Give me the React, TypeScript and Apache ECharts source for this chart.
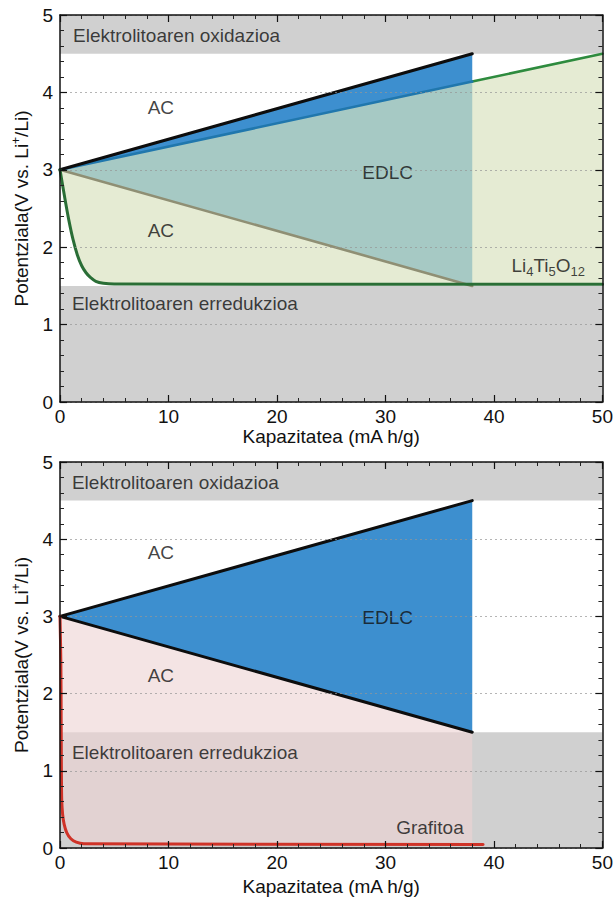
import React, { useEffect, useRef } from "react";
import * as echarts from "echarts";

// ---- axes ----
const X_MIN = 0;
const X_MAX = 50;
const X_INTERVAL = 10;
const Y_MIN = 0;
const Y_MAX = 5;
const Y_INTERVAL = 1;
const X_NAME = "Kapazitatea (mA h/g)";
const Y_NAME = "{a|Potentziala(V vs. Li}{b|+}{a|/Li)}";

// ---- electrolyte stability bands (V) ----
const oxidationBand = [4.5, 5];
const reductionBand = [0, 1.5];

// ---- common AC / EDLC geometry ----
const startPoint = [0, 3];
const edlcEnd = 38;
const acUpperEnd = [38, 4.5];
const acLowerEnd = [38, 1.5];

// ---- top chart: AC // Li4Ti5O12 ----
const acHybridEnd = [50, 4.5];
const ltoCurve = [
  [0, 3], [0.4, 2.67], [0.8, 2.36], [1.2, 2.1], [1.6, 1.9], [2, 1.76],
  [2.4, 1.67], [2.8, 1.61], [3.3, 1.56], [4, 1.535], [5, 1.525], [50, 1.52],
];

// ---- bottom chart: AC // graphite ----
const graphiteCurve = [
  [0, 3], [0.08, 2.4], [0.11, 1.6], [0.13, 1.0], [0.16, 0.62], [0.24, 0.44],
  [0.38, 0.31], [0.62, 0.2], [1, 0.12], [1.5, 0.075], [2.2, 0.055], [39, 0.045],
];

// ---- annotation texts [x, y, text, align] ----
const topLabels: [number, number, string, string][] = [
  [1.2, 4.73, "Elektrolitoaren oxidazioa", "left"],
  [9.3, 3.81, "AC", "center"],
  [30.2, 2.97, "EDLC", "center"],
  [9.3, 2.22, "AC", "center"],
  [1.1, 1.27, "Elektrolitoaren erredukzioa", "left"],
  [45.0, 1.76, "{m|Li}{s|4}{m|Ti}{s|5}{m|O}{s|12}", "center"],
];
const bottomLabels: [number, number, string, string][] = [
  [1.1, 4.73, "Elektrolitoaren oxidazioa", "left"],
  [9.3, 3.83, "AC", "center"],
  [30.2, 2.99, "EDLC", "center"],
  [9.3, 2.23, "AC", "center"],
  [1.1, 1.24, "Elektrolitoaren erredukzioa", "left"],
  [34.1, 0.27, "Grafitoa", "center"],
];

const FONT = "'Liberation Sans', Arial, Helvetica, sans-serif";
const TXT = "#111111";
const FS = 19;

const valueAt = (a: number[], b: number[], x: number) =>
  a[1] + ((b[1] - a[1]) * (x - a[0])) / (b[0] - a[0]);

function polygonSeries(grid: number, pts: number[][], color: string, z: number) {
  return {
    type: "custom",
    xAxisIndex: grid * 2,
    yAxisIndex: grid * 2,
    z,
    silent: true,
    clip: true,
    data: [[pts[0][0], pts[0][1]]],
    renderItem: (_p: any, api: any) => ({
      type: "polygon",
      shape: { points: pts.map((p) => api.coord(p)) },
      style: { fill: color },
    }),
  };
}

function lineSeries(grid: number, pts: number[][], color: string, width: number, z: number, smooth = 0) {
  return {
    type: "line",
    xAxisIndex: grid * 2,
    yAxisIndex: grid * 2,
    z,
    silent: true,
    data: pts,
    showSymbol: false,
    symbol: "none",
    smooth,
    lineStyle: { color, width, cap: "round", join: "round" },
  };
}

function labelSeries(grid: number, labels: [number, number, string, string][]) {
  return {
    type: "scatter",
    xAxisIndex: grid * 2,
    yAxisIndex: grid * 2,
    z: 6,
    silent: true,
    symbolSize: 0,
    data: labels.map((l) => ({
      value: [l[0], l[1]],
      label: {
        show: true,
        position: "inside",
        align: l[3],
        verticalAlign: "middle",
        formatter: l[2],
        color: TXT,
        fontSize: FS,
        fontFamily: FONT,
        rich: {
          m: { fontSize: FS, fontFamily: FONT, color: TXT, lineHeight: 24 },
          s: { fontSize: 13, fontFamily: FONT, color: TXT, lineHeight: 13, verticalAlign: "bottom" },
        },
      },
    })),
  };
}

const mkTick = () => ({ show: true, inside: true, length: 7, lineStyle: { color: "#111", width: 1.2 } });
const mkMinor = () => ({ show: true, splitNumber: 5, length: 4, lineStyle: { color: "#222", width: 1 } });
const mkLine = () => ({ show: true, onZero: false, lineStyle: { color: "#111", width: 1.5 } });

function xAxisFor(grid: number, pos: string, nameGap: number) {
  const main = pos === "bottom";
  return {
    type: "value",
    gridIndex: grid,
    position: pos,
    z: 8,
    min: X_MIN,
    max: X_MAX,
    interval: X_INTERVAL,
    axisLine: mkLine(),
    axisTick: mkTick(),
    minorTick: mkMinor(),
    splitLine: { show: false },
    minorSplitLine: { show: false },
    name: main ? X_NAME : "",
    nameLocation: "middle",
    nameGap,
    nameTextStyle: { fontSize: FS, fontFamily: FONT, color: TXT },
    axisLabel: main
      ? { show: true, fontSize: FS, fontFamily: FONT, color: TXT, margin: 5 }
      : { show: false },
  };
}

function yAxisFor(grid: number, pos: string) {
  const main = pos === "left";
  return {
    type: "value",
    gridIndex: grid,
    position: pos,
    z: 8,
    min: Y_MIN,
    max: Y_MAX,
    interval: Y_INTERVAL,
    axisLine: mkLine(),
    axisTick: mkTick(),
    minorTick: mkMinor(),
    minorSplitLine: { show: false },
    name: main ? Y_NAME : "",
    nameLocation: "middle",
    nameGap: 28,
    nameTextStyle: {
      fontFamily: FONT,
      color: TXT,
      rich: {
        a: { fontSize: FS, fontFamily: FONT, color: TXT, lineHeight: 22 },
        b: { fontSize: 12, fontFamily: FONT, color: TXT, lineHeight: 12, verticalAlign: "top" },
      },
    },
    axisLabel: main
      ? { show: true, fontSize: FS, fontFamily: FONT, color: TXT, margin: 7 }
      : { show: false },
    splitLine: main
      ? { show: true, lineStyle: { color: "rgba(150,150,150,0.7)", type: [2, 3], width: 1 } }
      : { show: false },
  };
}

export default function App() {
  const ref = useRef<HTMLDivElement>(null);

  useEffect(() => {
    if (!ref.current) return;
    const chart = echarts.init(ref.current, undefined, { renderer: "svg" });

    const band = (b: number[]) => [[X_MIN, b[0]], [X_MAX, b[0]], [X_MAX, b[1]], [X_MIN, b[1]]];

    // top chart geometry
    const hybridAtEnd = valueAt(startPoint, acHybridEnd, edlcEnd);
    const ltoFill = [...ltoCurve, acHybridEnd];
    const tealFill = [startPoint, [edlcEnd, hybridAtEnd], acLowerEnd];
    const blueStrip = [startPoint, acUpperEnd, [edlcEnd, hybridAtEnd]];

    // bottom chart geometry
    const graphiteToEnd = graphiteCurve.filter((p) => p[0] <= edlcEnd);
    const lastG = graphiteCurve[graphiteCurve.length - 1];
    const pinkFill = [...graphiteToEnd, [edlcEnd, lastG[1]], acLowerEnd];
    const blueTri = [startPoint, acUpperEnd, acLowerEnd];

    const option: any = {
      animation: false,
      backgroundColor: "#ffffff",
      grid: [
        { left: 60, top: 15, width: 543, height: 387 },
        { left: 60, top: 462, width: 543, height: 386 },
      ],
      xAxis: [
        xAxisFor(0, "bottom", 16),
        xAxisFor(0, "top", 10),
        xAxisFor(1, "bottom", 29),
        xAxisFor(1, "top", 10),
      ],
      yAxis: [yAxisFor(0, "left"), yAxisFor(0, "right"), yAxisFor(1, "left"), yAxisFor(1, "right")],
      series: [
        // ---- top ----
        polygonSeries(0, band(oxidationBand), "#d0d0d0", 1),
        polygonSeries(0, band(reductionBand), "#d0d0d0", 1),
        polygonSeries(0, ltoFill, "#e5ebd3", 1),
        polygonSeries(0, tealFill, "#a6c9c4", 2),
        polygonSeries(0, blueStrip, "#3d8fcf", 2),
        lineSeries(0, [startPoint, acLowerEnd], "#8f8f74", 2.6, 3),
        lineSeries(0, [[edlcEnd, hybridAtEnd], acHybridEnd], "#2e8b3e", 2.6, 3),
        lineSeries(0, [startPoint, [edlcEnd, hybridAtEnd]], "#2077ad", 2.6, 3),
        lineSeries(0, [startPoint, acUpperEnd], "#0d0d0d", 3, 4),
        lineSeries(0, ltoCurve, "#2a6e36", 3, 4, 0.3),
        labelSeries(0, topLabels),
        // ---- bottom ----
        polygonSeries(1, band(oxidationBand), "#d0d0d0", 1),
        polygonSeries(1, band(reductionBand), "#d0d0d0", 1),
        polygonSeries(1, pinkFill, "rgba(237,211,212,0.62)", 2),
        polygonSeries(1, blueTri, "#3d8fcf", 2),
        lineSeries(1, [startPoint, acUpperEnd], "#0d0d0d", 3, 4),
        lineSeries(1, [startPoint, acLowerEnd], "#0d0d0d", 3, 4),
        lineSeries(1, graphiteCurve, "#cf3328", 3, 4, 0.3),
        labelSeries(1, bottomLabels),
      ],
    };

    chart.setOption(option);
    return () => chart.dispose();
  }, []);

  return (
    <div
      ref={ref}
      style={{ position: "absolute", left: 0, top: 0, width: 616, height: 899, background: "#fff" }}
    />
  );
}
